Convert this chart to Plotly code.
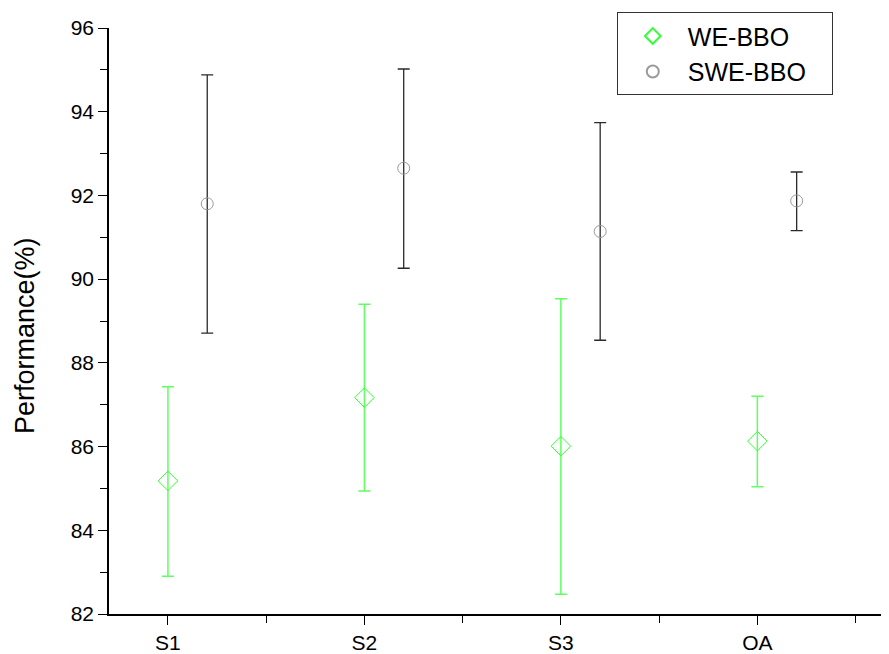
import plotly.graph_objects as go

categories = ["S1", "S2", "S3", "OA"]

we_mean = [85.18, 87.17, 86.01, 86.13]
we_upper = [87.43, 89.40, 89.53, 87.20]
we_lower = [82.90, 84.94, 82.47, 85.04]

swe_mean = [91.80, 92.65, 91.14, 91.87]
swe_upper = [94.88, 95.02, 93.74, 92.56]
swe_lower = [88.71, 90.26, 88.54, 91.16]

x_we = [i for i in range(len(categories))]
x_swe = [i + 0.2 for i in range(len(categories))]

fig = go.Figure()
fig.add_trace(go.Scatter(
    x=x_we, y=we_mean, mode="markers", name="WE-BBO\u00a0\u00a0\u00a0",
    marker=dict(symbol="diamond-open", size=15, color="#33ff33", line=dict(width=1, color="#33ff33")),
    error_y=dict(type="data", symmetric=False,
                 array=[u - m for u, m in zip(we_upper, we_mean)],
                 arrayminus=[m - l for m, l in zip(we_mean, we_lower)],
                 color="rgba(40,255,40,0.75)", thickness=1.5, width=6),
))
fig.add_trace(go.Scatter(
    x=x_swe, y=swe_mean, mode="markers", name="SWE-BBO\u00a0\u00a0\u00a0",
    marker=dict(symbol="circle-open", size=12, color="#9a9a9a", line=dict(width=1, color="#9a9a9a")),
    error_y=dict(type="data", symmetric=False,
                 array=[u - m for u, m in zip(swe_upper, swe_mean)],
                 arrayminus=[m - l for m, l in zip(swe_mean, swe_lower)],
                 color="#2a2a2a", thickness=1.3, width=6),
))

fig.update_layout(
    width=881, height=646,
    margin=dict(l=101, r=0, t=20, b=36),
    plot_bgcolor="white", paper_bgcolor="white",
    font=dict(family="Liberation Sans, Arial, sans-serif", color="black"),
    showlegend=True,
    legend=dict(x=0.651, y=1.027, xanchor="left", yanchor="top",
                bordercolor="#333333", borderwidth=1, bgcolor="white",
                font=dict(size=25), itemsizing="constant", itemwidth=60,
                tracegroupgap=0),
    annotations=[dict(text="Performance(%)", textangle=-90, xref="paper", yref="paper",
                      x=-0.1077, y=0.476, xanchor="center", yanchor="middle",
                      showarrow=False, font=dict(size=27))],
)
fig.update_xaxes(
    range=[-0.30, 3.67], tickmode="array", tickvals=x_we, ticktext=categories,
    showgrid=False, zeroline=False, showline=True, linecolor="black", linewidth=1.5,
    ticks="outside", ticklen=9, tickwidth=1.2, tickcolor="black",
    tickfont=dict(size=21),
    minor=dict(tickmode="array", tickvals=[0.5, 1.5, 2.5, 3.5], ticks="outside", ticklen=7, tickwidth=1.2, tickcolor="black", showgrid=False),
)
fig.update_yaxes(
    range=[82, 96], tickmode="array", tickvals=[82, 84, 86, 88, 90, 92, 94, 96],
    showgrid=False, zeroline=False, showline=True, linecolor="black", linewidth=1.5,
    ticks="outside", ticklen=9, tickwidth=1.2, tickcolor="black",
    tickfont=dict(size=21),
    minor=dict(tickmode="array", tickvals=[83, 85, 87, 89, 91, 93, 95], ticks="outside", ticklen=7, tickwidth=1.2, tickcolor="black", showgrid=False),
)

fig.write_html("out.html")
